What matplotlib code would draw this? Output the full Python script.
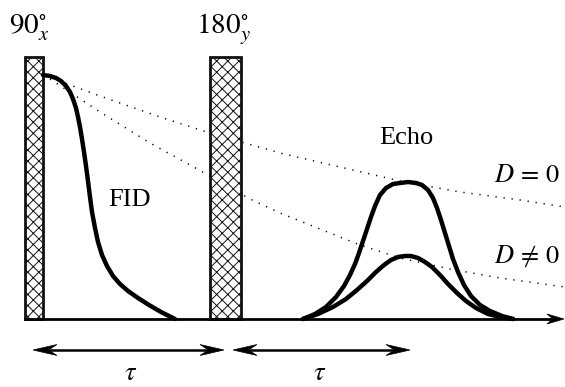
import matplotlib
matplotlib.use("Agg")
import matplotlib.pyplot as plt
from matplotlib.patches import Rectangle, Polygon

plt.rcParams["mathtext.fontset"] = "stix"
plt.rcParams["hatch.linewidth"] = 0.7
plt.rcParams["hatch.color"] = "#666666"

# Drawing coordinates: x to the right, y downward (pixel-like units)
baseline_y = 319
pulse_top = 57

# RF pulses: (left, right) edges
pulse_90 = (25, 43)
pulse_180 = (210, 241)

# Free induction decay after the 90 degree pulse
fid_x = [43, 50, 56, 61, 66, 70, 73, 76, 78, 80, 82, 84, 86, 88, 90, 92, 95, 98, 102, 107, 113, 120, 128, 138, 149, 161, 175]
fid_y = [75, 76, 78, 81, 86, 92, 99, 108, 117, 127, 139, 152, 166, 181, 197, 212, 228, 242, 255, 266, 276, 284, 291, 298, 305, 312, 319]

# Echo without diffusion (D = 0)
echo0_x = [303, 315, 326, 336, 344, 350, 355, 359, 363, 367, 371, 375, 380, 386, 393, 400, 408, 416, 422, 428, 433, 437, 441, 445, 449, 453, 458, 464, 471, 480, 490, 502, 513]
echo0_y = [319, 314, 307, 297, 286, 275, 264, 253, 241, 229, 217, 206, 195, 188, 184, 183, 182, 183, 185, 190, 198, 208, 220, 233, 246, 259, 272, 285, 296, 305, 311, 316, 319]

# Echo with diffusion (D != 0)
echo1_x = [303, 318, 333, 346, 357, 367, 376, 384, 391, 398, 405, 411, 418, 425, 432, 440, 448, 457, 466, 476, 488, 500, 513]
echo1_y = [319, 314, 307, 299, 290, 281, 272, 265, 260, 257, 256, 256, 258, 262, 267, 275, 284, 293, 301, 308, 314, 317, 319]

# Decay envelopes
env0_x = [43, 100, 160, 210, 280, 340, 400, 460, 520, 565]
env0_y = [75, 96, 117, 133, 153, 167, 181, 192, 200, 207]
env1_x = [50, 100, 150, 210, 250, 280, 320, 360, 400, 450, 500, 565]
env1_y = [79, 112, 143, 176, 199, 213, 229, 245, 258, 269, 278, 287]

fig = plt.figure(figsize=(5.65, 3.87), dpi=100)
ax = fig.add_axes([0, 0, 1, 1])
ax.set_xlim(0, 565)
ax.set_ylim(387, 0)
ax.axis("off")

serif = ["Liberation Serif", "DejaVu Serif"]
fs = 19


def stealth(x_tip, y, direction, length, width, notch=0.35):
    """Concave (stealth) arrow head pointing along +x (direction=1) or -x (-1)."""
    d = direction
    pts = [(x_tip, y),
           (x_tip - d * length, y - width / 2),
           (x_tip - d * length * (1 - notch), y),
           (x_tip - d * length, y + width / 2)]
    ax.add_patch(Polygon(pts, closed=True, facecolor="black", edgecolor="black",
                         lw=0.5, zorder=6))


# Envelopes (dotted)
for ex, ey in [(env0_x, env0_y), (env1_x, env1_y)]:
    ax.plot(ex, ey, color="black", lw=1.1, linestyle=(0, (0.8, 4.5)), zorder=1)

# Pulses
for left, right in [pulse_90, pulse_180]:
    ax.add_patch(Rectangle((left, pulse_top), right - left, baseline_y - pulse_top,
                           facecolor="white", edgecolor="#111111", hatch="xxx",
                           lw=2.0, zorder=3))

# Time axis
ax.plot([25, 556], [baseline_y, baseline_y], color="black", lw=2.0, zorder=4)
stealth(564, baseline_y, 1, 17, 10)

# Signals
for sx, sy in [(fid_x, fid_y), (echo0_x, echo0_y), (echo1_x, echo1_y)]:
    ax.plot(sx, sy, color="black", lw=3.2, solid_capstyle="round",
            solid_joinstyle="round", zorder=5)

# Interval arrows
for x0, x1 in [(33, 224), (233, 410)]:
    ax.plot([x0 + 10, x1 - 10], [350, 350], color="black", lw=1.8)
    stealth(x0, 350, -1, 24, 11)
    stealth(x1, 350, 1, 24, 11)

# Labels
ax.text(29, 33, r"$90^{\circ}_{x}$", fontsize=21, ha="center", va="baseline")
ax.text(223, 33, r"$180^{\circ}_{y}$", fontsize=21, ha="center", va="baseline")
ax.text(129, 206, "FID", fontsize=fs, family=serif, ha="center", va="baseline")
ax.text(406, 144, "Echo", fontsize=fs, family=serif, ha="center", va="baseline")
ax.text(527, 182, r"$D\,=\,0$", fontsize=fs, ha="center", va="baseline")
ax.text(527, 263, r"$D\,\neq\,0$", fontsize=fs, ha="center", va="baseline")
ax.text(131, 380, r"$\tau$", fontsize=fs, ha="center", va="baseline")
ax.text(320, 380, r"$\tau$", fontsize=fs, ha="center", va="baseline")

fig.savefig("out.png", dpi=100)
